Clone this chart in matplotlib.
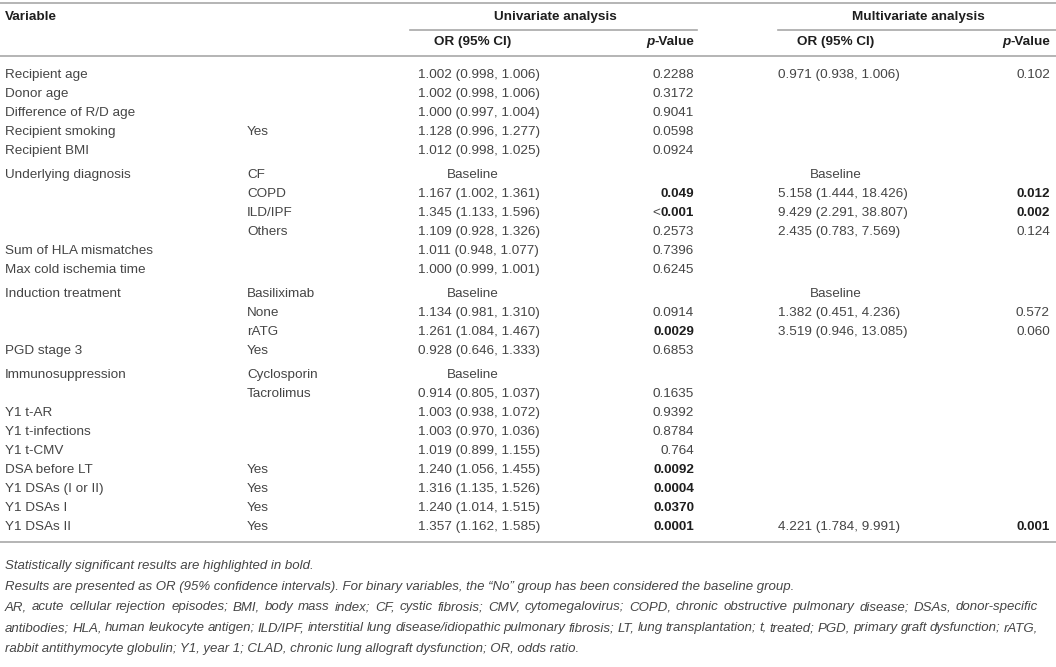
import matplotlib
matplotlib.use("Agg")
import matplotlib.pyplot as plt

# Table contents, one entry per row.
variables = ["Recipient age", "Donor age", "Difference of R/D age", "Recipient smoking",
             "Recipient BMI", "Underlying diagnosis", "", "", "", "Sum of HLA mismatches",
             "Max cold ischemia time", "Induction treatment", "", "", "PGD stage 3",
             "Immunosuppression", "", "Y1 t-AR", "Y1 t-infections", "Y1 t-CMV",
             "DSA before LT", "Y1 DSAs (I or II)", "Y1 DSAs I", "Y1 DSAs II"]
levels = ["", "", "", "Yes", "", "CF", "COPD", "ILD/IPF", "Others", "", "",
          "Basiliximab", "None", "rATG", "Yes", "Cyclosporin", "Tacrolimus", "", "", "",
          "Yes", "Yes", "Yes", "Yes"]
uni_or = ["1.002 (0.998, 1.006)", "1.002 (0.998, 1.006)", "1.000 (0.997, 1.004)",
          "1.128 (0.996, 1.277)", "1.012 (0.998, 1.025)", "Baseline",
          "1.167 (1.002, 1.361)", "1.345 (1.133, 1.596)", "1.109 (0.928, 1.326)",
          "1.011 (0.948, 1.077)", "1.000 (0.999, 1.001)", "Baseline",
          "1.134 (0.981, 1.310)", "1.261 (1.084, 1.467)", "0.928 (0.646, 1.333)",
          "Baseline", "0.914 (0.805, 1.037)", "1.003 (0.938, 1.072)",
          "1.003 (0.970, 1.036)", "1.019 (0.899, 1.155)", "1.240 (1.056, 1.455)",
          "1.316 (1.135, 1.526)", "1.240 (1.014, 1.515)", "1.357 (1.162, 1.585)"]
uni_p = ["0.2288", "0.3172", "0.9041", "0.0598", "0.0924", "", "0.049", "<0.001",
         "0.2573", "0.7396", "0.6245", "", "0.0914", "0.0029", "0.6853", "", "0.1635",
         "0.9392", "0.8784", "0.764", "0.0092", "0.0004", "0.0370", "0.0001"]
uni_bold = [False] * 6 + [True, True] + [False] * 5 + [True] + [False] * 6 + [True] * 4
multi_or = ["0.971 (0.938, 1.006)", "", "", "", "", "Baseline", "5.158 (1.444, 18.426)",
            "9.429 (2.291, 38.807)", "2.435 (0.783, 7.569)", "", "", "Baseline",
            "1.382 (0.451, 4.236)", "3.519 (0.946, 13.085)", "", "", "", "", "", "",
            "", "", "", "4.221 (1.784, 9.991)"]
multi_p = ["0.102", "", "", "", "", "", "0.012", "0.002", "0.124", "", "", "",
           "0.572", "0.060", "", "", "", "", "", "", "", "", "", "0.001"]
multi_bold = [False] * 6 + [True, True] + [False] * 15 + [True]
group_starts = [5, 11, 15]

footnotes = [
    "Statistically significant results are highlighted in bold.",
    "Results are presented as OR (95% confidence intervals). For binary variables, "
    "the \u201cNo\u201d group has been considered the baseline group.",
    "AR, acute cellular rejection episodes; BMI, body mass index; CF, cystic fibrosis; "
    "CMV, cytomegalovirus; COPD, chronic obstructive pulmonary disease; DSAs, donor-specific",
    "antibodies; HLA, human leukocyte antigen; ILD/IPF, interstitial lung disease/idiopathic "
    "pulmonary fibrosis; LT, lung transplantation; t, treated; PGD, primary graft dysfunction; rATG,",
    "rabbit antithymocyte globulin; Y1, year 1; CLAD, chronic lung allograft dysfunction; "
    "OR, odds ratio.",
]
justified = [False, False, True, True, False]

plt.rcParams["font.family"] = ["Liberation Sans", "DejaVu Sans"]
body_color = "#454545"
head_color = "#1e1e1e"
rule_color = "#a8a8a8"
fs = 9.7
fs_note = 9.5

W, H = 1056, 667
fig = plt.figure(figsize=(W / 100, H / 100), dpi=100)
ax = fig.add_axes([0, 0, 1, 1])
ax.set_xlim(0, W)
ax.set_ylim(H, 0)
ax.axis("off")
renderer = fig.canvas.get_renderer()

# column anchors (pixels)
x_var, x_lvl = 5, 247
x_uor, x_uor_c, x_up = 418, 473, 694
x_mor, x_mor_c, x_mp = 778, 836, 1050


def put_right(x, y, parts):
    # parts: list of (text, weight, style) drawn right to left
    for txt, weight, style in reversed(parts):
        t = ax.text(x, y, txt, ha="right", va="center", fontsize=fs,
                    fontweight=weight, fontstyle=style,
                    color=head_color if weight == "bold" else body_color)
        bb = t.get_window_extent(renderer)
        x -= bb.width


# rules
ax.plot([0, W], [3, 3], color=rule_color, lw=1.2)
ax.plot([410, 697], [30, 30], color=rule_color, lw=1.2)
ax.plot([778, W], [30, 30], color=rule_color, lw=1.2)
ax.plot([0, W], [56, 56], color=rule_color, lw=1.2)

# header
ax.text(x_var, 17, "Variable", fontsize=fs, fontweight="bold", color=head_color, va="center")
ax.text(555, 17, "Univariate analysis", fontsize=fs, fontweight="bold", color=head_color,
        va="center", ha="center")
ax.text(918, 17, "Multivariate analysis", fontsize=fs, fontweight="bold", color=head_color,
        va="center", ha="center")
ax.text(x_uor_c, 42, "OR (95% CI)", fontsize=fs, fontweight="bold", color=head_color,
        va="center", ha="center")
ax.text(x_mor_c, 42, "OR (95% CI)", fontsize=fs, fontweight="bold", color=head_color,
        va="center", ha="center")
put_right(x_up, 42, [("p", "bold", "italic"), ("-Value", "bold", "normal")])
put_right(x_mp, 42, [("p", "bold", "italic"), ("-Value", "bold", "normal")])

# body rows
y = 75
for i in range(len(variables)):
    if i in group_starts:
        y += 5
    ax.text(x_var, y, variables[i], fontsize=fs, color=body_color, va="center")
    ax.text(x_lvl, y, levels[i], fontsize=fs, color=body_color, va="center")
    for val, xl, xc in [(uni_or[i], x_uor, x_uor_c), (multi_or[i], x_mor, x_mor_c)]:
        if val == "Baseline":
            ax.text(xc, y, val, fontsize=fs, color=body_color, va="center", ha="center")
        elif val:
            ax.text(xl, y, val, fontsize=fs, color=body_color, va="center")
    for val, bold, xr in [(uni_p[i], uni_bold[i], x_up), (multi_p[i], multi_bold[i], x_mp)]:
        if not val:
            continue
        if val.startswith("<"):
            put_right(xr, y, [("<", "normal", "normal"), (val[1:], "bold", "normal")])
        else:
            put_right(xr, y, [(val, "bold" if bold else "normal", "normal")])
    last_y = y
    y += 19

ax.plot([0, W], [last_y + 15, last_y + 15], color=rule_color, lw=1.2)

# footnotes (lines 3-4 justified to the table width)
right_edge = 1038
for k, line in enumerate(footnotes):
    yy = last_y + 39 + k * 20.7
    if not justified[k]:
        ax.text(x_var, yy, line, fontsize=fs_note, fontstyle="italic",
                color=body_color, va="center")
        continue
    words = line.split(" ")
    pieces = [ax.text(0, yy, w, fontsize=fs_note, fontstyle="italic",
                      color=body_color, va="center") for w in words]
    widths = [p.get_window_extent(renderer).width for p in pieces]
    gap = (right_edge - x_var - sum(widths)) / (len(words) - 1)
    xx = x_var
    for p, wd in zip(pieces, widths):
        p.set_x(xx)
        xx += wd + gap

fig.savefig("out.png", dpi=100)
